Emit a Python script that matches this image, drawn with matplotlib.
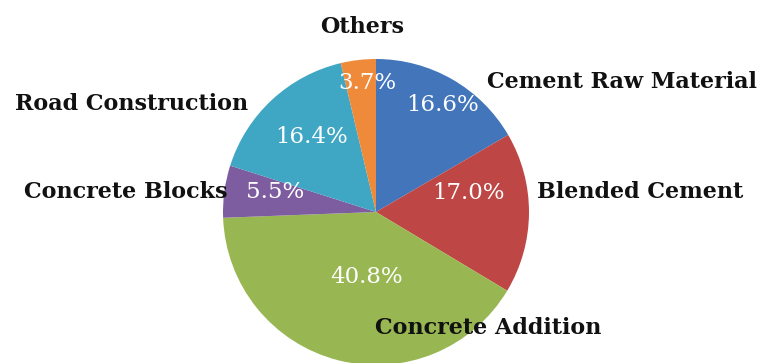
import matplotlib
matplotlib.use("Agg")
import matplotlib.pyplot as plt

categories = ["Cement Raw Material", "Blended Cement", "Concrete Addition",
              "Concrete Blocks", "Road Construction", "Others"]
shares = [16.6, 17.0, 40.8, 5.5, 16.4, 3.7]
colors = ["#4275BA", "#BE4645", "#98B752", "#7D5CA0", "#3FA6C3", "#EE8A3A"]

# label placement in pixel space (x, y from top, horizontal alignment)
name_pos = [(487, 82, "left"), (537, 192, "left"), (375, 328, "left"),
            (228, 192, "right"), (248, 104, "right"), (362, 27, "center")]
pct_pos = [(443, 105), (468, 193), (367, 277), (275, 192), (312, 137), (367, 83)]

W, H = 768, 363
fig = plt.figure(figsize=(W / 100, H / 100), dpi=100)
ax = fig.add_axes([0, 0, 1, 1])

ax.pie(shares, colors=colors, startangle=90, counterclock=False,
       center=(376, H - 212), radius=153, frame=True,
       wedgeprops=dict(linewidth=0))
ax.set_xlim(0, W)
ax.set_ylim(0, H)
ax.set_aspect("equal")
ax.axis("off")

for name, (x, y, ha) in zip(categories, name_pos):
    ax.text(x, H - y, name, ha=ha, va="center", fontsize=16,
            fontweight="bold", family="DejaVu Serif", color="#111111")

for v, (x, y) in zip(shares, pct_pos):
    ax.text(x, H - y, f"{v:.1f}%", ha="center", va="center", fontsize=16.5,
            family="DejaVu Serif", color="white")

fig.savefig("out.png", dpi=100)
